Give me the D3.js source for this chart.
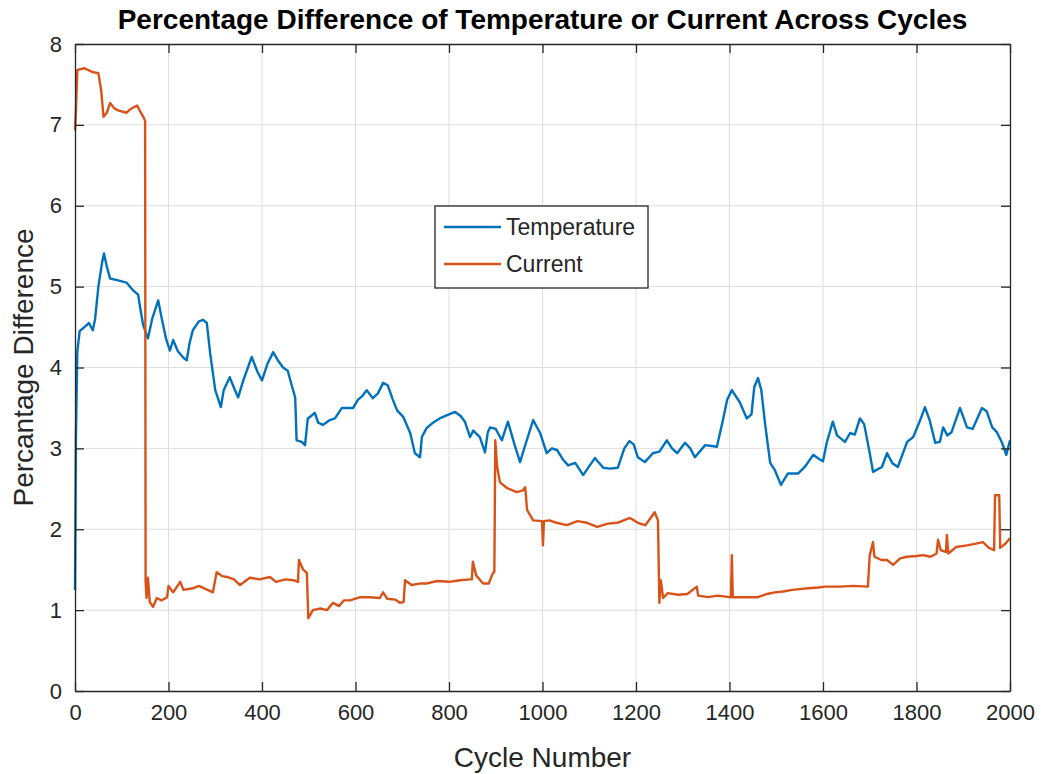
<!DOCTYPE html>
<html>
<head>
<meta charset="utf-8">
<script src="https://cdn.jsdelivr.net/npm/d3@7"></script>
<style>
  body { margin: 0; background: #ffffff; }
  svg { display: block; font-family: Arial, "Liberation Sans", Helvetica, sans-serif; }
</style>
</head>
<body>
<div id="chart"></div>
<script>
// cycle number / percentage difference
var tempCycles = [0, 2, 5, 10, 20, 30, 38, 43, 50, 58, 62, 68, 75, 90, 110, 125, 135, 140, 146, 156, 165, 178, 185, 195, 203, 210, 220, 232, 239, 245, 252, 265, 274, 282, 289, 300, 312, 318, 331, 340, 349, 360, 378, 390, 400, 412, 424, 435, 445, 455, 465, 471, 474, 485, 492, 498, 505, 513, 520, 530, 545, 556, 571, 585, 595, 605, 615, 624, 637, 648, 659, 669, 680, 689, 702, 717, 727, 738, 742, 752, 764, 780, 800, 813, 825, 834, 845, 852, 866, 877, 883, 888, 900, 913, 926, 940, 952, 962, 980, 995, 1009, 1020, 1031, 1044, 1055, 1070, 1087, 1100, 1112, 1130, 1145, 1161, 1175, 1186, 1195, 1204, 1219, 1236, 1250, 1266, 1277, 1288, 1305, 1316, 1326, 1348, 1373, 1386, 1395, 1405, 1422, 1437, 1447, 1453, 1461, 1468, 1476, 1487, 1497, 1510, 1525, 1547, 1561, 1579, 1594, 1600, 1608, 1621, 1630, 1647, 1658, 1668, 1679, 1688, 1700, 1707, 1726, 1737, 1748, 1760, 1780, 1793, 1808, 1818, 1828, 1840, 1850, 1857, 1866, 1875, 1893, 1908, 1920, 1940, 1950, 1962, 1972, 1983, 1992, 2000];
var tempValues = [1.25, 3.14, 4.2, 4.45, 4.5, 4.55, 4.46, 4.6, 5.0, 5.3, 5.41, 5.25, 5.1, 5.08, 5.05, 4.95, 4.9, 4.72, 4.52, 4.36, 4.6, 4.83, 4.62, 4.35, 4.21, 4.34, 4.2, 4.12, 4.09, 4.3, 4.46, 4.57, 4.59, 4.55, 4.18, 3.72, 3.51, 3.72, 3.88, 3.75, 3.63, 3.84, 4.13, 3.95, 3.84, 4.05, 4.19, 4.08, 4.0, 3.96, 3.75, 3.63, 3.1, 3.08, 3.04, 3.37, 3.4, 3.44, 3.32, 3.29, 3.35, 3.37, 3.5, 3.5, 3.5, 3.6, 3.65, 3.72, 3.62, 3.68, 3.81, 3.78, 3.6, 3.47, 3.39, 3.19, 2.94, 2.89, 3.14, 3.25, 3.31, 3.37, 3.42, 3.45, 3.4, 3.33, 3.14, 3.22, 3.14, 2.95, 3.2, 3.26, 3.24, 3.1, 3.33, 3.05, 2.83, 3.02, 3.35, 3.19, 2.94, 3.0, 2.98, 2.86, 2.79, 2.82, 2.67, 2.78, 2.88, 2.76, 2.75, 2.76, 3.0, 3.09, 3.05, 2.89, 2.83, 2.94, 2.96, 3.1, 3.0, 2.94, 3.07, 3.0, 2.89, 3.04, 3.02, 3.35, 3.6, 3.72, 3.57, 3.37, 3.42, 3.76, 3.87, 3.72, 3.31, 2.82, 2.73, 2.55, 2.69, 2.69, 2.77, 2.92, 2.86, 2.84, 3.07, 3.33, 3.16, 3.08, 3.19, 3.17, 3.37, 3.3, 2.94, 2.71, 2.77, 2.94, 2.82, 2.77, 3.08, 3.14, 3.35, 3.51, 3.35, 3.07, 3.08, 3.26, 3.16, 3.2, 3.5, 3.26, 3.24, 3.5, 3.46, 3.26, 3.2, 3.07, 2.92, 3.1];

var currentCycles = [0, 2, 5, 20, 39, 50, 56, 61, 68, 75, 85, 92, 110, 120, 133, 140, 146, 150, 151, 153, 156, 160, 167, 175, 185, 197, 200, 210, 225, 232, 252, 265, 280, 295, 303, 315, 325, 340, 353, 374, 395, 417, 430, 450, 467, 477, 479, 488, 496, 499, 509, 525, 539, 552, 565, 575, 588, 610, 630, 652, 659, 668, 685, 695, 703, 706, 720, 740, 753, 775, 800, 824, 845, 849, 851, 858, 873, 885, 894, 897, 899, 903, 909, 924, 945, 958, 963, 967, 980, 999, 1001, 1003, 1015, 1030, 1052, 1075, 1095, 1117, 1140, 1160, 1187, 1204, 1220, 1240, 1247, 1250, 1253, 1258, 1268, 1290, 1310, 1330, 1333, 1354, 1375, 1400, 1403, 1405, 1407, 1430, 1461, 1480, 1497, 1515, 1534, 1550, 1568, 1590, 1604, 1636, 1665, 1696, 1700, 1707, 1710, 1725, 1737, 1750, 1765, 1780, 1800, 1814, 1830, 1843, 1846, 1852, 1863, 1865, 1868, 1885, 1908, 1925, 1942, 1955, 1966, 1968, 1977, 1979, 1990, 2000];
var currentValues = [6.93, 7.18, 7.68, 7.7, 7.65, 7.64, 7.43, 7.1, 7.15, 7.27, 7.2, 7.18, 7.15, 7.2, 7.24, 7.16, 7.1, 7.05, 1.35, 1.15, 1.4, 1.1, 1.04, 1.15, 1.12, 1.16, 1.3, 1.22, 1.35, 1.25, 1.27, 1.3, 1.26, 1.22, 1.47, 1.42, 1.41, 1.38, 1.31, 1.4, 1.38, 1.41, 1.35, 1.38, 1.37, 1.35, 1.62, 1.5, 1.46, 0.9, 1.0, 1.02, 1.0, 1.09, 1.05, 1.12, 1.12, 1.16, 1.16, 1.15, 1.22, 1.14, 1.13, 1.09, 1.1, 1.37, 1.31, 1.33, 1.33, 1.36, 1.35, 1.37, 1.38, 1.38, 1.6, 1.43, 1.33, 1.33, 1.46, 1.47, 3.1, 2.77, 2.58, 2.51, 2.46, 2.48, 2.52, 2.24, 2.11, 2.1, 1.8, 2.1, 2.11, 2.08, 2.05, 2.1, 2.08, 2.03, 2.07, 2.08, 2.14, 2.08, 2.05, 2.21, 2.11, 1.09, 1.37, 1.15, 1.21, 1.19, 1.2, 1.29, 1.18, 1.16, 1.18, 1.16, 1.16, 1.68, 1.16, 1.16, 1.16, 1.2, 1.22, 1.23, 1.25, 1.26, 1.27, 1.28, 1.29, 1.29, 1.3, 1.29, 1.68, 1.84, 1.66, 1.62, 1.62, 1.56, 1.64, 1.66, 1.67, 1.68, 1.66, 1.7, 1.87, 1.74, 1.72, 1.93, 1.7, 1.78, 1.8, 1.82, 1.84, 1.77, 1.74, 2.42, 2.42, 1.77, 1.82, 1.89];

var xTicks = [0, 200, 400, 600, 800, 1000, 1200, 1400, 1600, 1800, 2000];
var yTicks = [0, 1, 2, 3, 4, 5, 6, 7, 8];
var seriesNames = ["Temperature", "Current"];
var seriesColors = ["#0072BD", "#D95319"];

var width = 1041, height = 774;
var margin = { top: 44, right: 31, bottom: 83, left: 75 };
var axisColor = "#262626";

var svg = d3.select("#chart").append("svg")
    .attr("width", width)
    .attr("height", height);

var plotW = width - margin.left - margin.right;
var plotH = height - margin.top - margin.bottom;

var g = svg.append("g")
    .attr("transform", "translate(" + margin.left + "," + margin.top + ")");

var x = d3.scaleLinear().domain([0, 2000]).range([0, plotW]);
var y = d3.scaleLinear().domain([0, 8]).range([plotH, 0]);

// grid
g.append("g").selectAll("line.gx").data(xTicks.slice(1, -1)).join("line")
    .attr("x1", d => x(d)).attr("x2", d => x(d))
    .attr("y1", 0).attr("y2", plotH)
    .attr("stroke", "#dedede").attr("stroke-width", 1);
g.append("g").selectAll("line.gy").data(yTicks.slice(1, -1)).join("line")
    .attr("y1", d => y(d)).attr("y2", d => y(d))
    .attr("x1", 0).attr("x2", plotW)
    .attr("stroke", "#dedede").attr("stroke-width", 1);

// lines
var tempData = tempCycles.map((c, i) => [c, tempValues[i]]);
var currentData = currentCycles.map((c, i) => [c, currentValues[i]]);
var line = d3.line().x(d => x(d[0])).y(d => y(d[1]));

g.append("path").datum(tempData)
    .attr("fill", "none").attr("stroke", seriesColors[0])
    .attr("stroke-width", 2.4).attr("stroke-linejoin", "round")
    .attr("d", line);
g.append("path").datum(currentData)
    .attr("fill", "none").attr("stroke", seriesColors[1])
    .attr("stroke-width", 2.4).attr("stroke-linejoin", "round")
    .attr("d", line);

// axes, ticks pointing inward like matlab
var tickLen = 9;
var fmt = d3.format("d");
g.append("g").attr("transform", "translate(0," + plotH + ")")
    .call(d3.axisBottom(x).tickValues(xTicks).tickSizeInner(-tickLen).tickSizeOuter(0).tickPadding(13).tickFormat(fmt));
g.append("g").attr("transform", "translate(0,0)")
    .call(d3.axisTop(x).tickValues(xTicks).tickSizeInner(-tickLen).tickSizeOuter(0).tickFormat(""));
g.append("g")
    .call(d3.axisLeft(y).tickValues(yTicks).tickSizeInner(-tickLen).tickSizeOuter(0).tickPadding(13).tickFormat(fmt));
g.append("g").attr("transform", "translate(" + plotW + ",0)")
    .call(d3.axisRight(y).tickValues(yTicks).tickSizeInner(-tickLen).tickSizeOuter(0).tickFormat(""));

g.selectAll(".domain").attr("stroke", axisColor).attr("stroke-width", 1.3);
g.selectAll(".tick line").attr("stroke", axisColor).attr("stroke-width", 1.3);
g.selectAll(".tick text")
    .attr("fill", axisColor)
    .style("font-size", "22px")
    .style("font-family", "Arial, 'Liberation Sans', sans-serif");

// title and labels
svg.append("text")
    .attr("x", margin.left + plotW / 2).attr("y", 29)
    .attr("text-anchor", "middle")
    .style("font-size", "28px").style("font-weight", "bold")
    .attr("fill", "#000")
    .text("Percentage Difference of Temperature or Current Across Cycles");

svg.append("text")
    .attr("x", margin.left + plotW / 2).attr("y", 767)
    .attr("text-anchor", "middle")
    .style("font-size", "28px")
    .attr("fill", axisColor)
    .text("Cycle Number");

svg.append("text")
    .attr("transform", "translate(33," + (margin.top + plotH / 2) + ") rotate(-90)")
    .attr("text-anchor", "middle")
    .style("font-size", "28px")
    .attr("fill", axisColor)
    .text("Percantage Difference");

// legend
var legend = svg.append("g").attr("transform", "translate(435,206)");
legend.append("rect")
    .attr("width", 213).attr("height", 82)
    .attr("fill", "#fff").attr("stroke", axisColor).attr("stroke-width", 1.3);
seriesNames.forEach(function (name, i) {
    var row = legend.append("g").attr("transform", "translate(0," + (21 + i * 37) + ")");
    row.append("line")
        .attr("x1", 9).attr("x2", 66)
        .attr("stroke", seriesColors[i]).attr("stroke-width", 2.4);
    row.append("text")
        .attr("x", 71).attr("y", 8)
        .style("font-size", "23px")
        .attr("fill", axisColor)
        .text(name);
});
</script>
</body>
</html>
